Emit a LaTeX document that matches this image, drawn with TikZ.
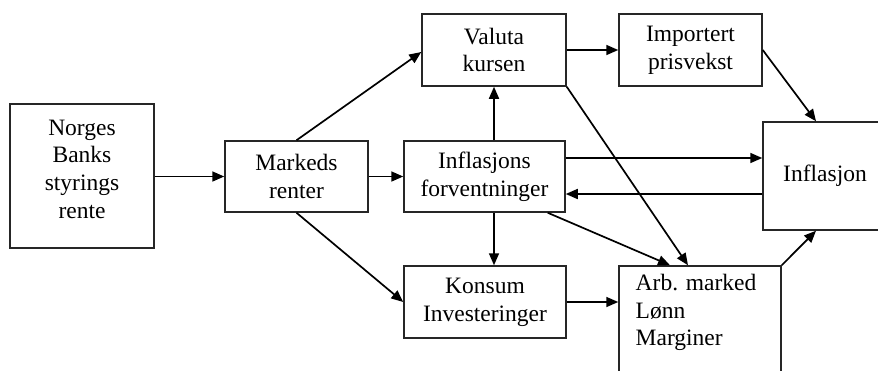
\documentclass[tikz,border=0pt]{standalone}
\usepackage{fontspec}
\setmainfont{Liberation Serif}
\usetikzlibrary{arrows.meta}
\newcommand\boxfont{\fontsize{23.5}{27.7}\selectfont}
\begin{document}
\begin{tikzpicture}[x=1pt,y=-1pt,
  box/.style={draw=black!85, line width=1.5pt, inner sep=0pt, align=center, font=\boxfont},
  txt/.style={inner sep=0pt, align=left, font=\boxfont},
  arr/.style={line width=1.7pt, -{Triangle[length=12pt,width=10pt]}}]
\useasboundingbox (0,0) rectangle (878,370);
\clip (0,0) rectangle (878,370);
\fill[white] (0,0) rectangle (878,370);
% nodes
\node[box, minimum width=144, minimum height=144] (norges) at (82,176) {};
\node[txt, align=center] (norgestext) at (82,169) {Norges\\Banks\\styrings\\rente};
\node[box, minimum width=143, minimum height=71] (markeds) at (296.5,176.5) {Markeds\\renter};
\node[box, minimum width=161, minimum height=71] (infl) at (484.5,176.5) {Inflasjons\\forventninger};
\node[box, minimum width=144, minimum height=72] (valuta) at (494,50) {Valuta\\kursen};
\node[box, minimum width=143, minimum height=72] (import) at (690.5,50) {Importert\\prisvekst};
\node[box, minimum width=124, minimum height=108] (inflasjon) at (825,176) {Inflasjon};
\node[box, minimum width=162, minimum height=72] (konsum) at (485,302) {Konsum\\Investeringer};
\node[box, minimum width=162, minimum height=128] (arb) at (700,330) {};
\node[txt, anchor=north west] (arbtext) at (635.5,274) {Arb. marked\\Lønn\\Marginer};
% connectors
\draw[arr] (norges.east |- markeds.west) -- (markeds.west);
\draw[arr] (markeds.north) -- ([yshift=-2pt]valuta.west);
\draw[arr] (markeds.east) -- (infl.west);
\draw[arr] (markeds.south) -- (konsum.west);
\draw[arr] (valuta.south |- infl.north) -- (valuta.south);
\draw[arr] (valuta.south |- infl.south) -- (valuta.south |- konsum.north);
\draw[arr] (valuta.east) -- (import.west);
\draw[arr] (import.east) -- ([xshift=-9pt]inflasjon.north);
\draw[arr] ([yshift=18.5pt]infl.east) -- ([yshift=18.5pt]infl.east -| inflasjon.west);
\draw[arr] ([yshift=-17.5pt]infl.east -| inflasjon.west) -- ([yshift=-17.5pt]infl.east);
\draw[arr] (valuta.south east) -- ([xshift=-12pt]arb.north);
\draw[arr] ([xshift=-18pt]infl.south east) -- ([xshift=-30pt]arb.north);
\draw[arr] (konsum.east) -- (konsum.east -| arb.west);
\draw[arr] (arb.north east) -- ([xshift=-9pt]inflasjon.south);
\end{tikzpicture}
\end{document}
